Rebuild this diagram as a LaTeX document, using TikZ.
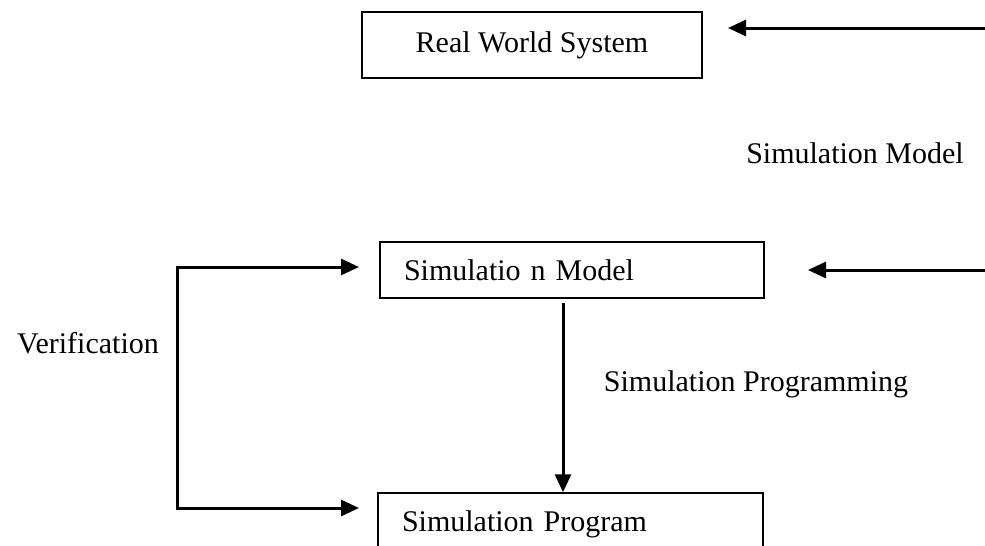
\documentclass[tikz,border=0pt]{standalone}
\usepackage{fontspec}
\setmainfont{Liberation Serif}
\usetikzlibrary{arrows.meta,positioning}
\tikzset{
  box/.style={draw, line width=0.75pt, inner sep=0pt},
  lbl/.style={font=\fontsize{15}{18}\selectfont},
  arr/.style={line width=1.5pt, -{Triangle[length=9pt,width=8pt]}},
  twoarr/.style={line width=1.5pt, {Triangle[length=9pt,width=8pt]}-{Triangle[length=9pt,width=8pt]}},
}

\begin{document}
\begin{tikzpicture}[x=0.5pt,y=-0.5pt]
    \useasboundingbox (0,0) rectangle (985,546);
    \clip (0,0) rectangle (985,546);
    % boxes
    \node[box, lbl, minimum width=170pt, minimum height=33pt] (rws) at (532,45) {Real World System};
    \node[box, lbl, text width=168pt, inner xsep=12pt, align=left, minimum height=28pt] (sm) at (572,270) {Simulatio n Model};
    \node[box, lbl, text width=168.5pt, inner xsep=12pt, align=left, minimum height=31pt] (sp) at (570.5,524) {Simulation Program};
    % labels
    \node[lbl] (smlab) at (855,153) {Simulation Model};
    \node[lbl] (verlab) at (88,343) {Verification};
    \node[lbl] (splab) at (756,384) {Simulation Programming};
    % incoming arrows from the right
    \coordinate (rwsin) at (985,28);
    \coordinate (rwstip) at (728,28);
    \draw[arr] (rwsin) -- (rwstip);
    \coordinate (smin) at (985,270);
    \coordinate (smtip) at (808,270);
    \draw[arr] (smin) -- (smtip);
    % programming step
    \coordinate (smout) at (563,303);
    \draw[arr] (smout) -- (smout |- sp.north);
    % verification loop
    \coordinate (vtop) at (359,267);
    \coordinate (vleft) at (177,390);
    \coordinate (vbot) at (359,508);
    \draw[twoarr] (vtop) -| (vleft) |- (vbot);
\end{tikzpicture}
\end{document}
